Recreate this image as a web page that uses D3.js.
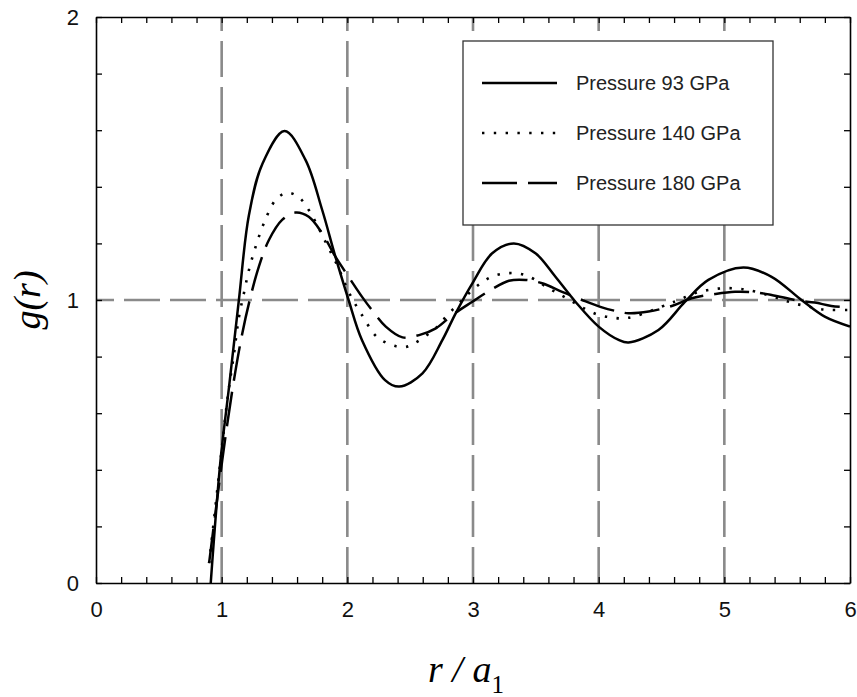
<!DOCTYPE html>
<html>
<head>
<meta charset="utf-8" />
<script src="https://d3js.org/d3.v7.min.js"></script>
<style>
body { margin: 0; background: #fff; }
svg { display: block; }
.tick text { font-family: "Liberation Sans", Arial, sans-serif; font-size: 22px; fill: #111; }
</style>
</head>
<body>
<svg id="chart" width="857" height="697"></svg>
<script>
// values
var series = ["Pressure 93 GPa", "Pressure 140 GPa", "Pressure 180 GPa"];

var r93 = [0.913, 0.99, 1.058, 1.137, 1.217, 1.323, 1.50, 1.667, 1.80, 1.905, 2.01, 2.116, 2.30, 2.413, 2.598, 2.757, 2.862, 2.995, 3.153, 3.325, 3.497, 3.656, 3.815, 4.0, 4.159, 4.238, 4.476, 4.688, 4.873, 5.151, 5.376, 5.614, 5.799, 6.0];
var g93 = [0, 0.43, 0.69, 1.0, 1.30, 1.48, 1.597, 1.495, 1.318, 1.153, 1.0, 0.859, 0.717, 0.694, 0.741, 0.859, 0.953, 1.059, 1.165, 1.20, 1.165, 1.082, 0.994, 0.906, 0.859, 0.850, 0.894, 0.994, 1.071, 1.115, 1.082, 1.0, 0.941, 0.906];

var r140 = [0.90, 0.952, 1.0, 1.045, 1.098, 1.138, 1.177, 1.217, 1.27, 1.336, 1.429, 1.521, 1.614, 1.693, 1.746, 1.839, 1.931, 2.01, 2.116, 2.248, 2.439, 2.532, 2.717, 2.796, 2.889, 2.968, 3.061, 3.153, 3.259, 3.352, 3.444, 3.616, 3.722, 3.815, 3.907, 4.0, 4.093, 4.18, 4.278, 4.556, 4.648, 4.74, 4.833, 4.926, 5.018, 5.111, 5.204, 5.389, 5.482, 5.574, 5.667, 5.759, 5.852, 6.0];
var g140 = [0.07, 0.276, 0.47, 0.647, 0.81, 0.941, 1.024, 1.106, 1.188, 1.271, 1.353, 1.379, 1.363, 1.318, 1.277, 1.194, 1.112, 1.029, 0.947, 0.865, 0.833, 0.847, 0.906, 0.947, 0.988, 1.024, 1.059, 1.083, 1.094, 1.094, 1.083, 1.038, 1.012, 0.988, 0.965, 0.947, 0.939, 0.935, 0.941, 0.986, 1.002, 1.02, 1.032, 1.039, 1.042, 1.04, 1.034, 1.012, 0.998, 0.986, 0.977, 0.968, 0.965, 0.965];

var r180 = [0.90, 1.005, 1.085, 1.164, 1.23, 1.296, 1.376, 1.481, 1.587, 1.693, 1.799, 1.905, 2.01, 2.116, 2.20, 2.306, 2.439, 2.571, 2.704, 2.836, 2.995, 3.139, 3.286, 3.418, 3.55, 3.709, 3.868, 4.026, 4.159, 4.238, 4.397, 4.582, 4.74, 4.926, 5.085, 5.243, 5.376, 5.587, 5.72, 5.852, 6.0];
var g180 = [0.07, 0.435, 0.682, 0.882, 1.012, 1.118, 1.212, 1.283, 1.309, 1.294, 1.236, 1.153, 1.082, 1.012, 0.962, 0.906, 0.868, 0.876, 0.9, 0.947, 0.994, 1.035, 1.068, 1.071, 1.059, 1.029, 1.0, 0.974, 0.959, 0.953, 0.959, 0.979, 1.006, 1.021, 1.029, 1.027, 1.018, 0.998, 0.991, 0.979, 0.974];

var xTicks = [0, 1, 2, 3, 4, 5, 6];
var yTicks = [0, 1, 2];

var svg = d3.select("#chart");
var x = d3.scaleLinear().domain([0, 6]).range([96, 850]);
var y = d3.scaleLinear().domain([0, 2]).range([583, 17]);

// dashed grid (drawn from bottom / right like the original)
var gridStyle = function(sel) {
  sel.attr("stroke", "#8a8a8a").attr("stroke-width", 2.6).attr("stroke-dasharray", "36 10").attr("fill", "none");
};
svg.append("g").selectAll("line").data([1, 2, 3, 4, 5]).join("line")
  .attr("x1", function(d) { return x(d); }).attr("x2", function(d) { return x(d); })
  .attr("y1", y(0)).attr("y2", y(2)).call(gridStyle);
svg.append("line").attr("x1", x(6)).attr("x2", x(0)).attr("y1", y(1)).attr("y2", y(1)).call(gridStyle);

// curves
svg.append("clipPath").attr("id", "clip").append("rect")
  .attr("x", x(0)).attr("y", y(2)).attr("width", x(6) - x(0)).attr("height", y(0) - y(2));

var line = d3.line()
  .x(function(d) { return x(d[0]); })
  .y(function(d) { return y(d[1]); })
  .curve(d3.curveCatmullRom.alpha(0.5));

var dashes = [null, "2.4 9.4", "35 11"];
var data = [d3.zip(r93, g93), d3.zip(r140, g140), d3.zip(r180, g180)];

svg.append("g").attr("clip-path", "url(#clip)").selectAll("path").data(data).join("path")
  .attr("d", line)
  .attr("fill", "none")
  .attr("stroke", "#000")
  .attr("stroke-width", function(d, i) { return i == 1 ? 2.6 : 2.5; })
  .attr("stroke-dasharray", function(d, i) { return dashes[i]; });

// axes with inward ticks on all sides
var minorX = d3.range(0, 6.001, 0.2);
var minorY = d3.range(0, 2.001, 0.2);
var fmt = function(d) { return Math.abs(d - Math.round(d)) < 1e-6 && xTicks.indexOf(Math.round(d)) >= 0 ? String(Math.round(d)) : ""; };
var fmtY = function(d) { return Math.abs(d - Math.round(d)) < 1e-6 && yTicks.indexOf(Math.round(d)) >= 0 ? String(Math.round(d)) : ""; };

var axB = svg.append("g").attr("transform", "translate(0," + y(0) + ")")
  .call(d3.axisBottom(x).tickValues(minorX).tickFormat(fmt).tickSizeInner(-6).tickSizeOuter(0).tickPadding(18));
var axT = svg.append("g").attr("transform", "translate(0," + y(2) + ")")
  .call(d3.axisTop(x).tickValues(minorX).tickFormat("").tickSizeInner(-6).tickSizeOuter(0));
var axL = svg.append("g").attr("transform", "translate(" + x(0) + ",0)")
  .call(d3.axisLeft(y).tickValues(minorY).tickFormat(fmtY).tickSizeInner(-6).tickSizeOuter(0).tickPadding(17));
var axR = svg.append("g").attr("transform", "translate(" + x(6) + ",0)")
  .call(d3.axisRight(y).tickValues(minorY).tickFormat("").tickSizeInner(-6).tickSizeOuter(0));

[axB, axT, axL, axR].forEach(function(a) {
  a.select(".domain").attr("stroke", "#000").attr("stroke-width", 1.6);
  a.selectAll(".tick line").attr("stroke", "#000").attr("stroke-width", 1.3);
});
axB.selectAll(".tick text").attr("dy", "0.71em");

// axis titles
svg.append("text")
  .attr("transform", "translate(40," + y(1) + ") rotate(-90)")
  .attr("text-anchor", "middle")
  .style("font-family", "'Liberation Serif', 'Times New Roman', serif")
  .style("font-size", "38px")
  .style("font-style", "italic")
  .text("g(r)");

var xt = svg.append("text")
  .attr("x", 466).attr("y", 682)
  .attr("text-anchor", "middle")
  .style("font-family", "'Liberation Serif', 'Times New Roman', serif")
  .style("font-size", "38px");
xt.append("tspan").style("font-style", "italic").text("r / a");
xt.append("tspan").attr("dy", 11).style("font-size", "25px").text("1");

// legend
var lg = svg.append("g");
lg.append("rect").attr("x", 463).attr("y", 41).attr("width", 310).attr("height", 184)
  .attr("fill", "#fff").attr("stroke", "#333").attr("stroke-width", 1.3);
var rows = lg.selectAll("g.row").data(series).join("g").attr("class", "row")
  .attr("transform", function(d, i) { return "translate(0," + (83 + i * 50) + ")"; });
rows.append("line").attr("x1", 482).attr("x2", 557).attr("y1", 0).attr("y2", 0)
  .attr("stroke", "#000").attr("stroke-width", 2.5)
  .attr("stroke-dasharray", function(d, i) { return dashes[i]; });
rows.append("text").attr("x", 576).attr("y", 0).attr("dy", "0.35em")
  .style("font-family", "'Liberation Sans', Arial, sans-serif")
  .style("font-size", "20px").style("fill", "#222")
  .text(function(d) { return d; });
</script>
</body>
</html>
